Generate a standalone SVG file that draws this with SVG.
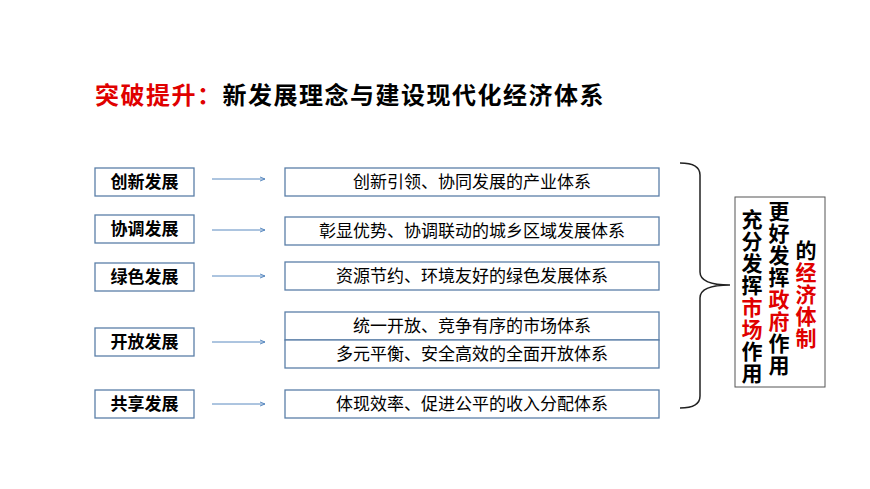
<svg xmlns="http://www.w3.org/2000/svg" width="870" height="489" viewBox="0 0 870 489">
<defs>
<style>
text{font-family:"Liberation Sans","Noto Sans CJK SC",sans-serif}
.l{fill:#fff;stroke:#5b7fa8;stroke-width:1.3}
.lt{font-size:17px;font-weight:bold;text-anchor:middle;fill:#000}
.rt{font-size:17px;text-anchor:middle;fill:#000}
.a{stroke:#5b8ac0;stroke-width:1;marker-end:url(#m)}
.v{font-size:21px;font-weight:bold;text-anchor:middle}
.red{fill:#e00000}
</style>
<marker id="m" markerWidth="6" markerHeight="6" refX="5" refY="3" orient="auto"><path d="M0,1 L5,3 L0,5" fill="none" stroke="#5b8ac0"/></marker>
</defs>
<rect width="870" height="489" fill="#fff"/>
<text x="95" y="104" style="font-size:24px;font-weight:bold;letter-spacing:1.5px"><tspan class="red">突破提升：</tspan>新发展理念与建设现代化经济体系</text>
<g id="n1"><rect class="l" x="95" y="168" width="99" height="28"/><text class="lt" x="144.5" y="188">创新发展</text></g>
<g id="n2"><rect class="l" x="95" y="215" width="99" height="28"/><text class="lt" x="144.5" y="235">协调发展</text></g>
<g id="n3"><rect class="l" x="95" y="263" width="99" height="28"/><text class="lt" x="144.5" y="283">绿色发展</text></g>
<g id="n4"><rect class="l" x="95" y="328" width="99" height="28"/><text class="lt" x="144.5" y="348">开放发展</text></g>
<g id="n5"><rect class="l" x="95" y="390" width="99" height="28"/><text class="lt" x="144.5" y="410">共享发展</text></g>
<g id="r1"><rect class="l" x="285" y="168" width="374" height="28"/><text class="rt" x="472" y="188">创新引领、协同发展的产业体系</text></g>
<g id="r2"><rect class="l" x="285" y="217" width="374" height="28"/><text class="rt" x="472" y="237">彰显优势、协调联动的城乡区域发展体系</text></g>
<g id="r3"><rect class="l" x="285" y="262" width="374" height="28"/><text class="rt" x="472" y="282">资源节约、环境友好的绿色发展体系</text></g>
<g id="r4"><rect class="l" x="285" y="312" width="374" height="28"/><text class="rt" x="472" y="332">统一开放、竞争有序的市场体系</text></g>
<g id="r5"><rect class="l" x="285" y="340" width="374" height="28"/><text class="rt" x="472" y="360">多元平衡、安全高效的全面开放体系</text></g>
<g id="r6"><rect class="l" x="285" y="390" width="374" height="28"/><text class="rt" x="472" y="410">体现效率、促进公平的收入分配体系</text></g>
<g id="connectors">
<line class="a" x1="212" y1="179" x2="265" y2="179"/>
<line class="a" x1="212" y1="230" x2="265" y2="230"/>
<line class="a" x1="212" y1="276" x2="265" y2="276"/>
<line class="a" x1="212" y1="342" x2="265" y2="342"/>
<line class="a" x1="212" y1="404" x2="265" y2="404"/>
<path d="M680,163 Q700,163 700,175 L700,272 Q700,285 730,285 Q700,285 700,298 L700,396 Q700,408 680,408" fill="none" stroke="#222" stroke-width="1.5"/>
</g>
<g id="summary">
<rect x="735" y="197" width="90" height="190" fill="#fff" stroke="#555" stroke-width="1"/>
<text class="v" x="752" y="227">充</text><text class="v" x="752" y="249">分</text><text class="v" x="752" y="271">发</text><text class="v" x="752" y="293">挥</text><text class="v red" x="752" y="315">市</text><text class="v red" x="752" y="337">场</text><text class="v" x="752" y="359">作</text><text class="v" x="752" y="381">用</text>
<text class="v" x="779" y="219">更</text><text class="v" x="779" y="241">好</text><text class="v" x="779" y="263">发</text><text class="v" x="779" y="285">挥</text><text class="v red" x="779" y="307">政</text><text class="v red" x="779" y="329">府</text><text class="v" x="779" y="351">作</text><text class="v" x="779" y="373">用</text>
<text class="v" x="806" y="258">的</text><text class="v red" x="806" y="280">经</text><text class="v red" x="806" y="302">济</text><text class="v red" x="806" y="324">体</text><text class="v red" x="806" y="346">制</text>
</g>
</svg>
